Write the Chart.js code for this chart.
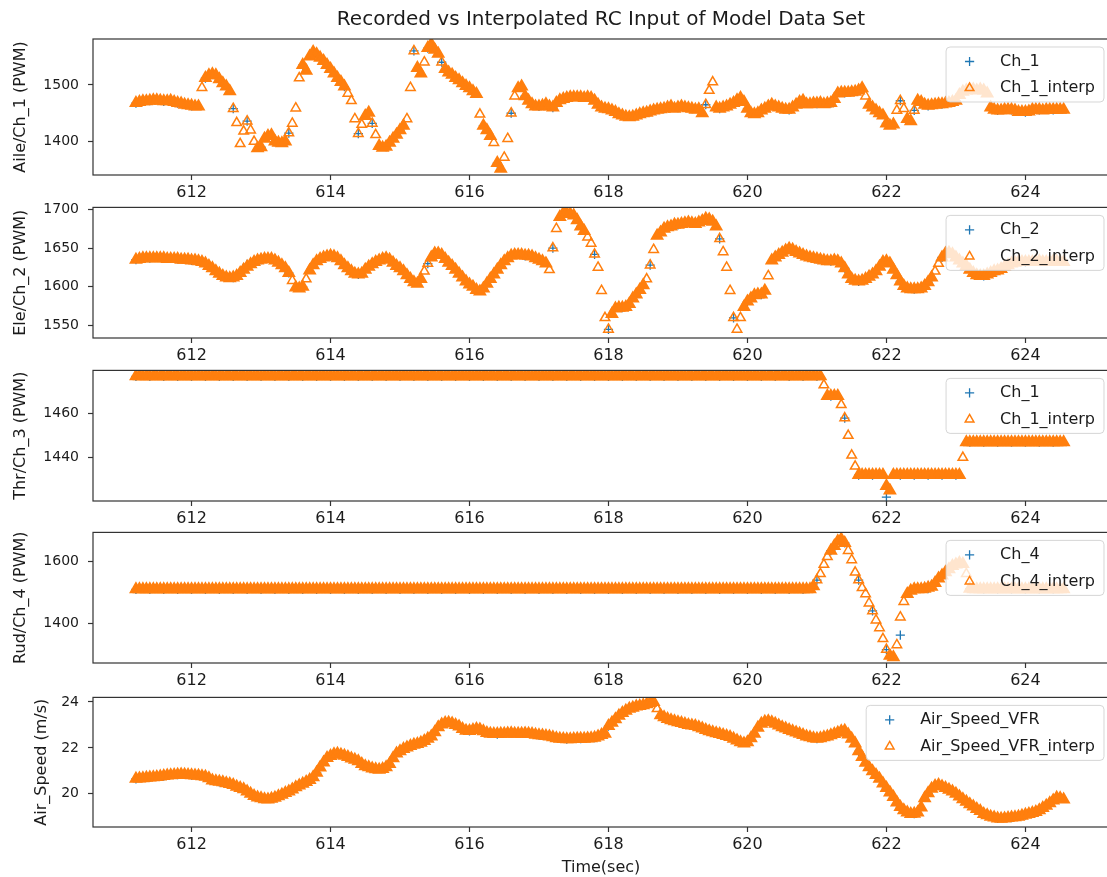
<!DOCTYPE html>
<html>
<head>
<meta charset="utf-8">
<title>Recorded vs Interpolated RC Input of Model Data Set</title>
<script src="https://cdn.jsdelivr.net/npm/chart.js@4.4.1/dist/chart.umd.min.js"></script>
<style>
  html, body { margin: 0; padding: 0; background: #fff; overflow: hidden; }
  #fig { position: relative; width: 1107px; height: 877px; overflow: hidden; background: #fff; }
  #fig canvas { position: absolute; left: 0; }
</style>
</head>
<body>
<div id="fig"></div>
<script>
// ---- sampling grid -------------------------------------------------------
const T0 = 611.2;          // first sample time (s)
const DT_INTERP = 0.05;    // interpolated series step (s)
const DT_REC = 0.2;        // recorded series step (s)

// ---- tick labels -------------------------------------------------------------
const X_TICKS = [612, 614, 616, 618, 620, 622, 624];
const AIL_TICKS = [1400, 1500];
const ELE_TICKS = [1550, 1600, 1650, 1700];
const THR_TICKS = [1440, 1460];
const RUD_TICKS = [1400, 1600];
const AIR_TICKS = [20, 22, 24];

// ---- aileron, channel 1 (PWM) ------------------------------------------------
const ail_rec = [
  1468,1472,1471,1468,
  1463,1512,1510,1458,1436,
  1390,1400,1415,1535,1554,
  1528,1497,1414,1432,1391,
  1420,1560,1565,1540,1512,
  1494,1428,1362,1450,1480,
  1462,1460,1477,1478,1472,
  1457,1446,1446,1453,1458,
  1460,1458,1465,1458,1468,
  1458,1455,1462,1456,1472,
  1467,1468,1486,1490,1460,
  1432,1472,1455,1463,1466,
  1472,1492,1490,1455,1456,
  1452,1456,1456
];
const ail_interp = [
  1468,1470,1471,1471,1472,1473,1473,1472,1471,1471,1472,1470,1468,1467,1465,1464,
  1463,1462,1462,1495,1512,1517,1519,1517,1510,1503,1497,1489,1458,1433,1396,1418,1436,1420,1400,1388,
  1390,1405,1410,1411,1400,1398,1397,1400,1415,1432,1459,1512,1535,1525,1550,1558,1554,1548,1542,1535,
  1528,1520,1512,1505,1497,1485,1472,1440,1414,1430,1445,1451,1432,1412,1392,1389,1391,1398,1405,1412,
  1420,1428,1440,1495,1560,1530,1520,1540,1565,1572,1562,1555,1540,1528,1522,1518,1512,1508,1503,1498,
  1494,1489,1484,1448,1428,1420,1410,1398,1362,1352,1372,1405,1450,1480,1494,1497,1480,1472,1466,1462,
  1462,1463,1466,1462,1460,1468,1473,1475,1477,1478,1478,1478,1478,1477,1478,1477,1472,1465,1460,1458,
  1457,1455,1452,1448,1446,1444,1443,1444,1446,1448,1450,1451,1453,1455,1456,1457,1458,1460,1462,1458,
  1460,1462,1460,1459,1458,1456,1457,1450,1465,1490,1505,1460,1458,1460,1462,1465,1468,1473,1477,1470,
  1458,1450,1448,1450,1455,1458,1462,1465,1462,1460,1458,1456,1456,1460,1465,1470,1472,1466,1466,1467,
  1467,1468,1466,1467,1468,1475,1485,1486,1486,1486,1487,1488,1490,1494,1480,1465,1460,1455,1450,1446,
  1432,1428,1430,1455,1472,1458,1440,1436,1455,1472,1470,1465,1463,1464,1465,1466,1466,1467,1468,1470,
  1472,1482,1488,1490,1492,1492,1490,1492,1490,1485,1460,1456,1455,1455,1456,1456,1456,1455,1452,1452,
  1452,1453,1456,1456,1456,1455,1456,1456,1456,1456,1456,1456
];

// ---- elevator, channel 2 (PWM) -----------------------------------------------
const ele_rec = [
  1635,1637,1637,1636,
  1634,1630,1617,1612,1629,
  1635,1634,1618,1600,1633,
  1640,1628,1616,1629,1637,
  1624,1606,1630,1641,1622,
  1603,1598,1622,1640,1640,
  1635,1650,1695,1678,1642,
  1545,1573,1590,1628,1675,
  1680,1682,1688,1662,1560,
  1581,1590,1638,1649,1641,
  1636,1633,1624,1607,1616,
  1633,1607,1597,1606,1638,
  1638,1622,1614,1621,1630,
  1632,1633,1633
];
const ele_interp = [
  1635,1636,1637,1637,1637,1637,1637,1637,1637,1636,1636,1636,1636,1635,1635,1635,
  1634,1634,1633,1632,1630,1627,1624,1620,1617,1614,1612,1611,1612,1614,1618,1622,1626,1629,1632,1634,
  1635,1636,1636,1636,1634,1631,1628,1624,1618,1608,1599,1598,1600,1610,1621,1628,1633,1636,1638,1639,
  1640,1639,1637,1633,1628,1624,1620,1617,1616,1617,1622,1626,1629,1632,1634,1636,1637,1635,1631,1627,
  1624,1620,1615,1610,1606,1604,1610,1620,1630,1638,1643,1643,1641,1636,1631,1627,1622,1617,1612,1607,
  1603,1600,1596,1594,1598,1604,1610,1616,1622,1628,1633,1637,1640,1641,1641,1641,1640,1640,1639,1637,
  1635,1633,1630,1622,1650,1675,1690,1695,1695,1694,1692,1686,1678,1672,1664,1656,1642,1625,1595,1560,
  1545,1565,1572,1573,1573,1574,1578,1585,1590,1596,1602,1610,1628,1648,1666,1670,1675,1677,1678,1680,
  1680,1681,1682,1683,1682,1681,1683,1685,1688,1687,1684,1678,1662,1645,1625,1595,1560,1545,1560,1574,
  1581,1585,1589,1590,1590,1595,1614,1634,1638,1641,1644,1647,1649,1648,1645,1643,1641,1639,1638,1637,
  1636,1635,1634,1633,1633,1634,1633,1630,1624,1616,1610,1608,1607,1608,1610,1613,1616,1620,1626,1632,
  1633,1630,1622,1615,1607,1601,1598,1597,1597,1597,1598,1601,1606,1612,1620,1630,1638,1643,1644,1642,
  1638,1634,1630,1627,1622,1618,1615,1614,1614,1616,1618,1620,1621,1623,1626,1628,1630,1631,1632,1632,
  1632,1632,1632,1633,1633,1632,1632,1632,1633,1633,1632,1632
];

// ---- throttle, channel 3 (PWM) -----------------------------------------------
const thr_rec = [
  1477,1477,1477,1477,
  1477,1477,1477,1477,1477,
  1477,1477,1477,1477,1477,
  1477,1477,1477,1477,1477,
  1477,1477,1477,1477,1477,
  1477,1477,1477,1477,1477,
  1477,1477,1477,1477,1477,
  1477,1477,1477,1477,1477,
  1477,1477,1477,1477,1477,
  1477,1477,1477,1477,1477,
  1477,1468,1458,1432,1432,
  1422,1432,1432,1432,1432,
  1432,1447,1447,1447,1447,
  1447,1447,1447
];
const thr_interp = [
  1477,1477,1477,1477,1477,1477,1477,1477,1477,1477,1477,1477,1477,1477,1477,1477,
  1477,1477,1477,1477,1477,1477,1477,1477,1477,1477,1477,1477,1477,1477,1477,1477,1477,1477,1477,1477,
  1477,1477,1477,1477,1477,1477,1477,1477,1477,1477,1477,1477,1477,1477,1477,1477,1477,1477,1477,1477,
  1477,1477,1477,1477,1477,1477,1477,1477,1477,1477,1477,1477,1477,1477,1477,1477,1477,1477,1477,1477,
  1477,1477,1477,1477,1477,1477,1477,1477,1477,1477,1477,1477,1477,1477,1477,1477,1477,1477,1477,1477,
  1477,1477,1477,1477,1477,1477,1477,1477,1477,1477,1477,1477,1477,1477,1477,1477,1477,1477,1477,1477,
  1477,1477,1477,1477,1477,1477,1477,1477,1477,1477,1477,1477,1477,1477,1477,1477,1477,1477,1477,1477,
  1477,1477,1477,1477,1477,1477,1477,1477,1477,1477,1477,1477,1477,1477,1477,1477,1477,1477,1477,1477,
  1477,1477,1477,1477,1477,1477,1477,1477,1477,1477,1477,1477,1477,1477,1477,1477,1477,1477,1477,1477,
  1477,1477,1477,1477,1477,1477,1477,1477,1477,1477,1477,1477,1477,1477,1477,1477,1477,1477,1477,1477,
  1477,1477,1473,1468,1468,1468,1468,1464,1458,1450,1441,1436,1432,1432,1432,1432,1432,1432,1432,1432,
  1427,1425,1432,1432,1432,1432,1432,1432,1432,1432,1432,1432,1432,1432,1432,1432,1432,1432,1432,1432,
  1432,1432,1440,1447,1447,1447,1447,1447,1447,1447,1447,1447,1447,1447,1447,1447,1447,1447,1447,1447,
  1447,1447,1447,1447,1447,1447,1447,1447,1447,1447,1447,1447
];

// ---- rudder, channel 4 (PWM) -------------------------------------------------
const rud_rec = [
  1510,1510,1510,1510,
  1510,1510,1510,1510,1510,
  1510,1510,1510,1510,1510,
  1510,1510,1510,1510,1510,
  1510,1510,1510,1510,1510,
  1510,1510,1510,1510,1510,
  1510,1510,1510,1510,1510,
  1510,1510,1510,1510,1510,
  1510,1510,1510,1510,1510,
  1510,1510,1510,1510,1510,
  1540,1635,1660,1540,1440,
  1315,1362,1510,1512,1555,
  1590,1512,1510,1510,1510,
  1510,1510,1510
];
const rud_interp = [
  1510,1510,1510,1510,1510,1510,1510,1510,1510,1510,1510,1510,1510,1510,1510,1510,
  1510,1510,1510,1510,1510,1510,1510,1510,1510,1510,1510,1510,1510,1510,1510,1510,1510,1510,1510,1510,
  1510,1510,1510,1510,1510,1510,1510,1510,1510,1510,1510,1510,1510,1510,1510,1510,1510,1510,1510,1510,
  1510,1510,1510,1510,1510,1510,1510,1510,1510,1510,1510,1510,1510,1510,1510,1510,1510,1510,1510,1510,
  1510,1510,1510,1510,1510,1510,1510,1510,1510,1510,1510,1510,1510,1510,1510,1510,1510,1510,1510,1510,
  1510,1510,1510,1510,1510,1510,1510,1510,1510,1510,1510,1510,1510,1510,1510,1510,1510,1510,1510,1510,
  1510,1510,1510,1510,1510,1510,1510,1510,1510,1510,1510,1510,1510,1510,1510,1510,1510,1510,1510,1510,
  1510,1510,1510,1510,1510,1510,1510,1510,1510,1510,1510,1510,1510,1510,1510,1510,1510,1510,1510,1510,
  1510,1510,1510,1510,1510,1510,1510,1510,1510,1510,1510,1510,1510,1510,1510,1510,1510,1510,1510,1510,
  1510,1510,1510,1510,1510,1510,1510,1510,1510,1510,1510,1510,1510,1510,1510,1510,1510,1510,1510,1520,
  1540,1560,1590,1615,1635,1650,1665,1672,1660,1635,1605,1565,1540,1515,1495,1465,1440,1410,1385,1350,
  1315,1295,1290,1330,1420,1470,1495,1505,1510,1510,1510,1512,1515,1518,1530,1545,1555,1565,1575,1585,
  1590,1595,1592,1560,1512,1510,1510,1510,1510,1510,1510,1510,1510,1510,1510,1510,1510,1510,1510,1510,
  1510,1510,1510,1510,1510,1510,1510,1510,1510,1510,1510,1510
];

// ---- air speed (m/s) ---------------------------------------------------------
const air_rec = [
  20.65,20.71,20.77,20.83,
  20.81,20.74,20.52,20.38,20.10,
  19.80,19.83,20.10,20.44,20.92,
  21.65,21.66,21.42,21.10,21.15,
  21.85,22.14,22.40,23.02,23.00,
  22.74,22.72,22.60,22.64,22.63,
  22.55,22.46,22.38,22.40,22.44,
  22.95,23.52,23.80,23.96,23.33,
  23.12,22.98,22.78,22.60,22.40,
  22.25,23.05,23.05,22.78,22.56,
  22.40,22.55,22.75,21.85,20.98,
  20.25,19.42,19.13,20.02,20.32,
  20.00,19.54,19.12,18.92,18.96,
  19.08,19.28,19.70
];
const air_interp = [
  20.65,20.66,20.68,20.70,20.71,20.72,20.73,20.75,20.77,20.79,20.81,20.82,20.83,20.84,20.83,20.82,
  20.81,20.80,20.78,20.76,20.74,20.68,20.58,20.54,20.52,20.50,20.46,20.42,20.38,20.30,20.25,20.20,20.10,20.00,19.90,19.84,
  19.80,19.76,19.75,19.78,19.83,19.89,19.96,20.03,20.10,20.18,20.28,20.36,20.44,20.51,20.60,20.72,20.92,21.14,21.36,21.56,
  21.65,21.72,21.74,21.70,21.66,21.60,21.54,21.48,21.42,21.30,21.20,21.15,21.10,21.07,21.05,21.08,21.15,21.30,21.55,21.75,
  21.85,21.95,22.02,22.08,22.14,22.17,22.22,22.30,22.40,22.50,22.68,22.90,23.02,23.08,23.10,23.06,23.00,22.93,22.82,22.75,
  22.74,22.78,22.82,22.80,22.72,22.65,22.62,22.60,22.60,22.61,22.62,22.63,22.64,22.62,22.61,22.62,22.63,22.62,22.60,22.57,
  22.55,22.54,22.52,22.50,22.46,22.42,22.40,22.39,22.38,22.38,22.39,22.40,22.40,22.40,22.41,22.42,22.44,22.50,22.56,22.62,
  22.95,23.10,23.25,23.40,23.52,23.62,23.70,23.75,23.80,23.83,23.86,23.90,23.96,24.00,23.70,23.42,23.33,23.26,23.20,23.16,
  23.12,23.08,23.04,23.00,22.98,22.95,22.90,22.84,22.78,22.72,22.68,22.64,22.60,22.56,22.52,22.47,22.40,22.32,22.25,22.19,
  22.25,22.42,22.62,22.88,23.05,23.14,23.16,23.12,23.05,22.97,22.90,22.84,22.78,22.72,22.67,22.62,22.56,22.50,22.46,22.42,
  22.40,22.42,22.46,22.50,22.55,22.60,22.66,22.72,22.75,22.58,22.40,22.19,21.85,21.60,21.35,21.15,20.98,20.82,20.65,20.45,
  20.25,20.05,19.86,19.62,19.42,19.28,19.18,19.12,19.13,19.18,19.40,19.80,20.02,20.22,20.34,20.38,20.32,20.25,20.17,20.10,
  20.00,19.88,19.76,19.65,19.54,19.44,19.34,19.25,19.12,19.06,19.00,18.96,18.92,18.91,18.92,18.94,18.96,18.98,19.00,19.04,
  19.08,19.12,19.16,19.20,19.28,19.38,19.48,19.58,19.70,19.82,19.80,19.75
];

// ---- figure layout and styling -----------------------------------------------
const FONT = '"DejaVu Sans", "Liberation Sans", sans-serif';
const TEXT = '#1b1b1b';
const SPINE = '#333333';
const BLUE = '#1f77b4';
const ORANGE = '#ff7f0e';
const CANVAS_W = 1116;
const X_MIN = 610.582, X_MAX = 625.203;

const PANELS = [
  { rec: ail_rec, interp: ail_interp, names: ['Ch_1', 'Ch_1_interp'], ylabel: 'Aile/Ch_1 (PWM)', yticks: AIL_TICKS,
    ymin: 1341, ymax: 1581, canvasTop: 0, padTop: 39, plotH: 136, axisH: 26, ylabelPad: 11.5 },
  { rec: ele_rec, interp: ele_interp, names: ['Ch_2', 'Ch_2_interp'], ylabel: 'Ele/Ch_2 (PWM)', yticks: ELE_TICKS,
    ymin: 1534, ymax: 1702.5, canvasTop: 190, padTop: 12, plotH: 136, axisH: 26, ylabelPad: 11.5 },
  { rec: thr_rec, interp: thr_interp, names: ['Ch_1', 'Ch_1_interp'], ylabel: 'Thr/Ch_3 (PWM)', yticks: THR_TICKS,
    ymin: 1420.2, ymax: 1479.7, canvasTop: 353, padTop: 12, plotH: 136, axisH: 26, ylabelPad: 11.5 },
  { rec: rud_rec, interp: rud_interp, names: ['Ch_4', 'Ch_4_interp'], ylabel: 'Rud/Ch_4 (PWM)', yticks: RUD_TICKS,
    ymin: 1271.7, ymax: 1694, canvasTop: 515, padTop: 12, plotH: 136, axisH: 26, ylabelPad: 11.5 },
  { rec: air_rec, interp: air_interp, names: ['Air_Speed_VFR', 'Air_Speed_VFR_interp'], ylabel: 'Air_Speed (m/s)', yticks: AIR_TICKS,
    ymin: 18.55, ymax: 24.2, canvasTop: 680, padTop: 12, plotH: 135, axisH: 50, ylabelPad: 32.5, xlabel: 'Time(sec)' }
];

const toPoints = (vals, step) => vals.map((v, i) => ({ x: T0 + i * step, y: v }));

// A triangle whose neighbour sits within a few pixels belongs to a packed
// trace: those are drawn solid so the trace reads as one band, while lone
// markers on fast transitions stay open.
function packed(c) {
  const d = c.dataset.data, i = c.dataIndex, ys = c.chart.scales.y;
  if (!ys || !d || !d[i]) return true;
  const p = ys.getPixelForValue(d[i].y);
  const close = j => d[j] && Math.abs(ys.getPixelForValue(d[j].y) - p) < 6;
  return close(i - 1) || close(i + 1);
}
const triangleFill = c => packed(c) ? ORANGE : 'rgba(0,0,0,0)';
const triangleWidth = c => packed(c) ? 2 : 1.5;
const triangleRadius = c => packed(c) ? 6 : 5.5;

// axes box drawn above the markers
const frame = {
  id: 'frame',
  afterDatasetsDraw(chart) {
    const { ctx, chartArea: a } = chart;
    ctx.save();
    ctx.strokeStyle = SPINE;
    ctx.lineWidth = 1.2;
    ctx.strokeRect(a.left, a.top, a.right - a.left, a.bottom - a.top);
    ctx.restore();
  }
};

// legend box tucked into the upper right corner of each axes
const insetLegend = {
  id: 'insetLegend',
  afterDraw(chart) {
    const { ctx, chartArea: a } = chart;
    const sets = chart.data.datasets;
    ctx.save();
    ctx.font = '16px ' + FONT;
    const textW = Math.max(...sets.map(d => ctx.measureText(d.label).width));
    const w = 54 + textW + 9, h = 55;
    const x = a.right - 5 - w, y = a.top + 8;
    ctx.beginPath();
    if (ctx.roundRect) ctx.roundRect(x, y, w, h, 4); else ctx.rect(x, y, w, h);
    ctx.fillStyle = 'rgba(255,255,255,0.8)';
    ctx.fill();
    ctx.strokeStyle = 'rgba(204,204,204,0.8)';
    ctx.lineWidth = 1;
    ctx.stroke();
    sets.forEach((d, i) => {
      const cy = y + 14.5 + i * 26.5;
      const lw = d.pointStyle === 'triangle' ? 1.5 : 1.3;
      ctx.strokeStyle = d.borderColor;
      ctx.fillStyle = 'rgba(0,0,0,0)';
      ctx.lineWidth = lw;
      Chart.helpers.drawPoint(ctx, {
        pointStyle: d.pointStyle, radius: d.pointStyle === 'triangle' ? 5 : 4.6, borderWidth: lw, rotation: 0
      }, x + 23.5, cy);
      ctx.fillStyle = TEXT;
      ctx.textAlign = 'left';
      ctx.textBaseline = 'middle';
      ctx.fillText(d.label, x + 54, cy);
    });
    ctx.restore();
  }
};

// figure title over the first axes
const suptitle = {
  id: 'suptitle',
  afterDraw(chart, args, opts) {
    if (!opts || !opts.text) return;
    const { ctx, chartArea: a } = chart;
    ctx.save();
    ctx.font = opts.size + 'px ' + FONT;
    ctx.fillStyle = TEXT;
    ctx.textAlign = 'center';
    ctx.textBaseline = 'middle';
    ctx.fillText(opts.text, (a.left + a.right) / 2, opts.y);
    ctx.restore();
  }
};

const fig = document.getElementById('fig');

PANELS.forEach((P, idx) => {
  const canvas = document.createElement('canvas');
  const H = P.padTop + P.plotH + P.axisH;
  canvas.width = CANVAS_W;
  canvas.height = H;
  canvas.style.width = CANVAS_W + 'px';
  canvas.style.height = H + 'px';
  canvas.style.top = P.canvasTop + 'px';
  fig.appendChild(canvas);

  new Chart(canvas, {
    type: 'scatter',
    data: {
      datasets: [
        {
          label: P.names[0],
          data: toPoints(P.rec, DT_REC),
          pointStyle: 'cross',
          pointRadius: 4.6,
          borderColor: BLUE,
          backgroundColor: BLUE,
          borderWidth: 1.3,
          order: 2
        },
        {
          label: P.names[1],
          data: toPoints(P.interp, DT_INTERP),
          pointStyle: 'triangle',
          pointRadius: triangleRadius,
          borderColor: ORANGE,
          backgroundColor: triangleFill,
          borderWidth: triangleWidth,
          order: 1
        }
      ]
    },
    options: {
      responsive: false,
      animation: false,
      events: [],
      layout: { padding: { top: P.padTop, left: 0, right: CANVAS_W - 1114, bottom: 0 } },
      plugins: {
        legend: { display: false },
        tooltip: { enabled: false },
        suptitle: idx === 0 ? { text: 'Recorded vs Interpolated RC Input of Model Data Set', size: 20, y: 20 } : {}
      },
      scales: {
        x: {
          type: 'linear',
          min: X_MIN,
          max: X_MAX,
          afterBuildTicks: s => { s.ticks = X_TICKS.map(v => ({ value: v })); },
          afterFit: s => { s.height = P.axisH; },
          border: { display: false },
          grid: { drawOnChartArea: false, drawTicks: true, tickLength: 5, tickWidth: 1.2, tickColor: SPINE },
          ticks: {
            font: { family: FONT, size: 16 }, color: TEXT, padding: 3,
            maxRotation: 0, autoSkip: false, callback: v => String(v)
          },
          title: {
            display: !!P.xlabel, text: P.xlabel || '',
            font: { family: FONT, size: 16 }, color: TEXT, padding: { top: 0, bottom: 0 }
          }
        },
        y: {
          type: 'linear',
          min: P.ymin,
          max: P.ymax,
          afterBuildTicks: s => { s.ticks = P.yticks.map(v => ({ value: v })); },
          afterFit: s => { s.width = 93; },
          border: { display: false },
          grid: { drawOnChartArea: false, drawTicks: true, tickLength: 5, tickWidth: 1.2, tickColor: SPINE },
          ticks: {
            font: { family: FONT, size: 14 }, color: TEXT, padding: 9,
            autoSkip: false, callback: v => String(v)
          },
          title: {
            display: true, text: P.ylabel,
            font: { family: FONT, size: 16 }, color: TEXT,
            padding: { top: P.ylabelPad, bottom: 0 }
          }
        }
      }
    },
    plugins: [frame, insetLegend, suptitle]
  });
});
</script>
</body>
</html>
